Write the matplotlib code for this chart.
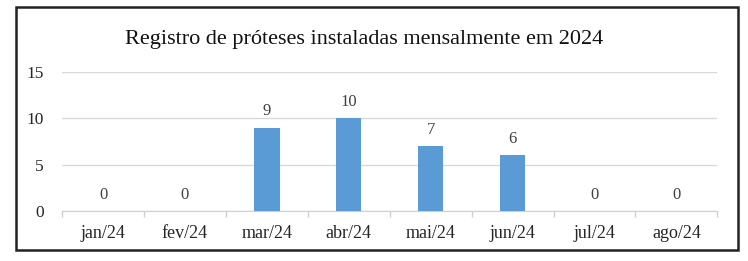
import matplotlib.pyplot as plt
from matplotlib.patches import Rectangle

# monthly counts
months = ['jan/24', 'fev/24', 'mar/24', 'abr/24', 'mai/24', 'jun/24', 'jul/24', 'ago/24']
counts = [0, 0, 9, 10, 7, 6, 0, 0]
yticks = [0, 5, 10, 15]

plt.rcParams['font.family'] = ['Liberation Serif', 'DejaVu Serif']

fig = plt.figure(figsize=(7.48, 2.61), dpi=100)
ax = fig.add_axes([0.083, 0.192, 0.876, 0.532])

x = range(len(months))
bars = ax.bar(x, counts, width=0.31, color='#5B9BD5', zorder=3)
for xi, v in zip(x, counts):
    ax.text(xi, v + 0.9, str(v), ha='center', va='bottom', fontsize=12, color='#404040')

ax.set_xlim(-0.5, len(months) - 0.5)
ax.set_ylim(0, 15)
ax.set_yticks(yticks)
ax.set_xticks(list(x))
ax.set_xticklabels(months, fontsize=13, color='#262626')
ax.tick_params(axis='y', length=0, pad=13, labelsize=12.5, labelcolor='#262626')
ax.tick_params(axis='x', length=0, pad=10)
# small category separator ticks
ax.set_xticks([i - 0.5 for i in range(len(months) + 1)], minor=True)
ax.tick_params(axis='x', which='minor', length=4, color='#D0D0D0', width=1)

ax.grid(axis='y', color='#D9D9D9', linewidth=1, zorder=0)
for s in ['top', 'right', 'left']:
    ax.spines[s].set_visible(False)
ax.spines['bottom'].set_color('#D0D0D0')

fig.text(0.487, 0.85, 'Registro de próteses instaladas mensalmente em 2024',
         ha='center', va='center', fontsize=16, color='#111111')

fig.patches.append(Rectangle((0.021, 0.044), 0.965, 0.929, transform=fig.transFigure,
                             fill=False, edgecolor='#222222', linewidth=1.8))

fig.savefig('out.png', dpi=100)
